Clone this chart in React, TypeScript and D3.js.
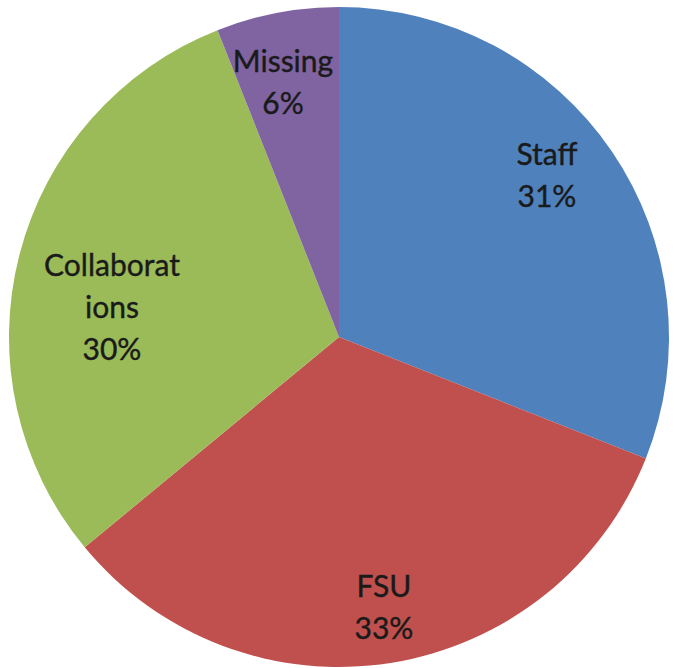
import React from "react";
import * as d3 from "d3";

const categories = ["Staff", "FSU", "Collaborations", "Missing"];
const values = [31, 33, 30, 6];
const labelLines = [["Staff", "31%"], ["FSU", "33%"], ["Collaborat", "ions", "30%"], ["Missing", "6%"]];
const colors = ["#4F81BD", "#C0504D", "#9BBB59", "#8064A2"];

const W = 673;
const H = 668;
const CX = 339;
const CY = 337;
const R = 330;
// label anchor (first baseline) per slice, layout only
const LABEL_ANCHOR = [
  [547, 165],
  [384, 597],
  [112, 276],
  [283, 72],
];
const LINE_H = 42;

export default function App() {
  const pie = d3.pie<number>().sort(null).value((d) => d);
  const arcs = pie(values);
  const arc = d3.arc<d3.PieArcDatum<number>>().innerRadius(0).outerRadius(R);
  return (
    <svg width={W} height={H} style={{ position: "absolute", left: 0, top: 0, display: "block" }}>
      <rect width={W} height={H} fill="#ffffff" />
      <g transform={`translate(${CX},${CY})`}>
        {arcs.map((a, i) => (
          <path key={categories[i]} d={arc(a) || ""} fill={colors[i]} />
        ))}
      </g>
      {labelLines.map((lines, i) => (
        <text
          key={categories[i]}
          x={LABEL_ANCHOR[i][0]}
          y={LABEL_ANCHOR[i][1]}
          textAnchor="middle"
          fontFamily="Lato, 'Liberation Sans', sans-serif"
          fontSize={30}
          fill="#1a1a1a"
          stroke="#1a1a1a"
          strokeWidth={0.4}
        >
          {lines.map((l, j) => (
            <tspan key={j} x={LABEL_ANCHOR[i][0]} dy={j === 0 ? 0 : LINE_H}>
              {l}
            </tspan>
          ))}
        </text>
      ))}
    </svg>
  );
}
